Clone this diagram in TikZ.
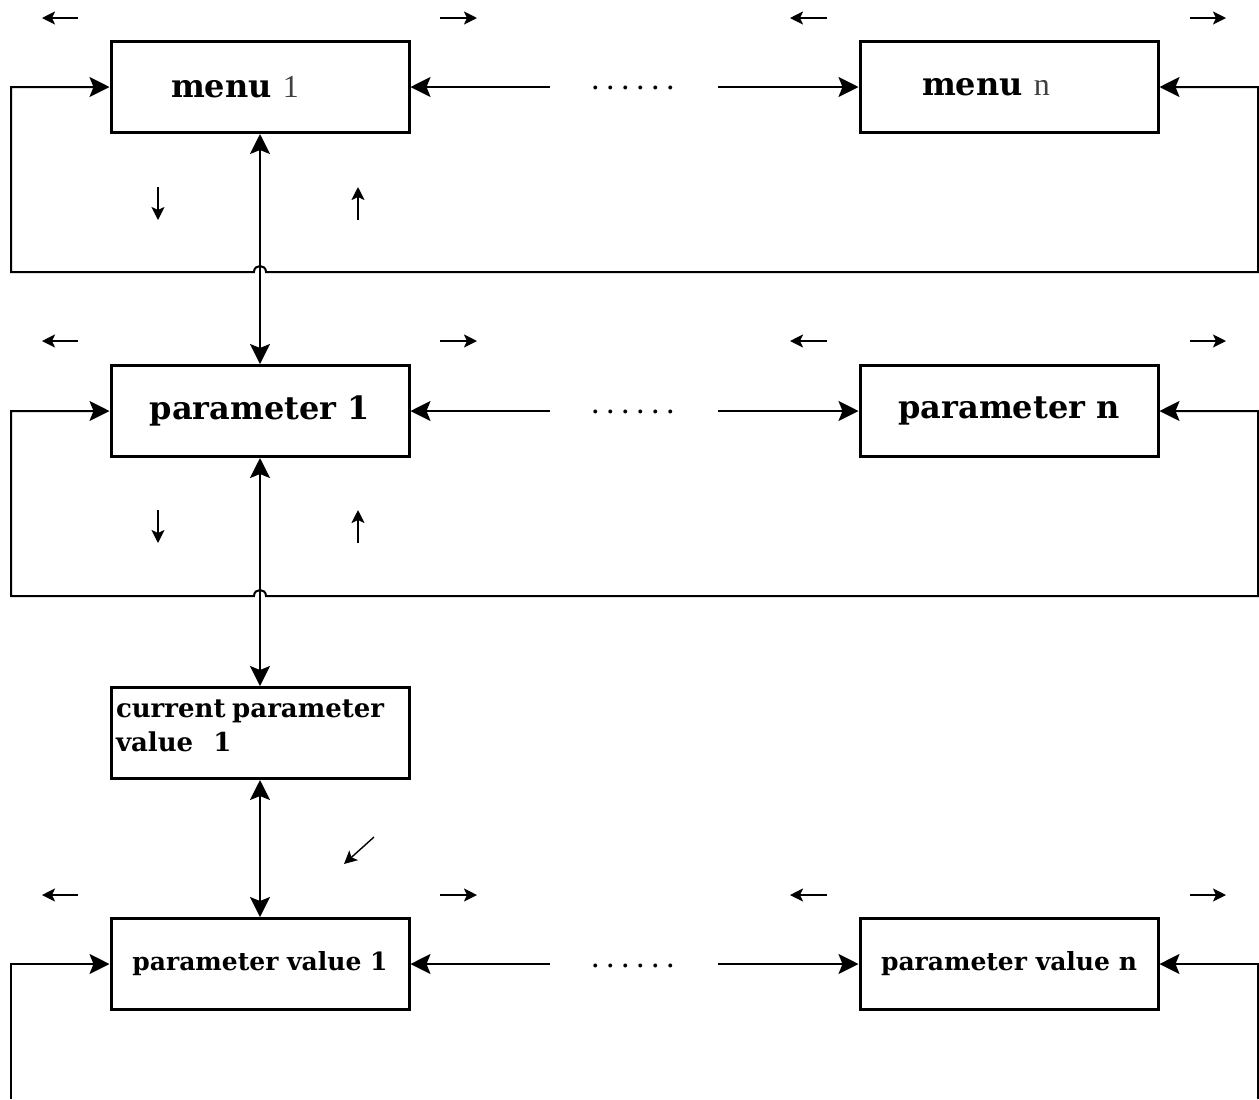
\documentclass[tikz,border=0pt]{standalone}
\usepackage{fontspec}
\setmainfont{DejaVu Serif}
\newfontfamily\thinfont{Liberation Serif}
\usetikzlibrary{arrows.meta}

\tikzset{
  box/.style={draw, line width=1.5pt, minimum width=149pt, minimum height=45.5pt, inner sep=1.5pt, font=\bfseries},
  link/.style={line width=1pt},
  bigtip/.style={-{Stealth[length=10pt,width=10pt,inset=2pt]}},
  twotip/.style={{Stealth[length=10pt,width=10pt,inset=2pt]}-{Stealth[length=10pt,width=10pt,inset=2pt]}},
  hint/.style={line width=1pt, -{Stealth[length=6.5pt,width=6.5pt,inset=1.5pt]}},
}
\newcommand{\dotrow}{\foreach \i in {1,...,6}{\makebox[7.5pt]{.}}}

\begin{document}
\begin{tikzpicture}[x=0.5pt,y=-0.5pt]
  \useasboundingbox (0,0) rectangle (1259,1099);

  % Boxes of the three levels
  \node[box] (m1) at (260,87) {\fontsize{16}{16}\selectfont menu\ {\thinfont\mdseries\color{black!75}1}\hspace*{25pt}}; % first menu
  \node[box] (mn) at (1009,87) {\fontsize{16}{16}\selectfont menu\ {\thinfont\mdseries\color{black!75}n}\hspace*{23pt}}; % last menu
  \node[box] (p1) at (260,411) {\fontsize{16}{16}\selectfont parameter 1}; % first parameter
  \node[box] (pn) at (1009,411) {\fontsize{16}{16}\selectfont parameter n}; % last parameter
  \node[box, text width=144pt, align=left] (cv) at (260,733) {\fontsize{13}{17}\selectfont current parameter\\value\ \ \ 1\\[-5pt]\mbox{}}; % current value
  \node[box] (v1) at (260,964) {\fontsize{12.5}{12.5}\selectfont parameter value 1}; % first value
  \node[box] (vn) at (1009,964) {\fontsize{12.5}{12.5}\selectfont parameter value n}; % last value

  % Dots between first and last box of each row
  \node[font=\fontsize{15}{15}\selectfont] (d1) at (633,88) {\dotrow};
  \node[font=\fontsize{15}{15}\selectfont] (d2) at (633,412) {\dotrow};
  \node[font=\fontsize{15}{15}\selectfont] (d3) at (633,966) {\dotrow};

  % Free ends of the row connectors
  \coordinate (a1) at (550,87);  \coordinate (b1) at (718,87);
  \coordinate (a2) at (550,411); \coordinate (b2) at (718,411);
  \coordinate (a3) at (550,964); \coordinate (b3) at (718,964);

  % Row connectors
  \draw[link,bigtip] (a1) -- (m1.east);
  \draw[link,bigtip] (b1) -- (mn.west);
  \draw[link,bigtip] (a2) -- (p1.east);
  \draw[link,bigtip] (b2) -- (pn.west);
  \draw[link,bigtip] (a3) -- (v1.east);
  \draw[link,bigtip] (b3) -- (vn.west);

  % Wrap-around loops with a hop over the vertical link
  \draw[link,twotip] (mn.east) -- (1258,87) -- (1258,272) -- (266,272)
    .. controls (266,264) and (254,264) .. (254,272) -- (11,272) -- (11,87) -- (m1.west);
  \draw[link,twotip] (pn.east) -- (1258,411) -- (1258,596) -- (266,596)
    .. controls (266,588) and (254,588) .. (254,596) -- (11,596) -- (11,411) -- (p1.west);
  \draw[link,bigtip] (11,1099) -- (11,964) -- (v1.west);
  \draw[link,bigtip] (1258,1099) -- (1258,964) -- (vn.east);

  % Vertical links between levels
  \draw[link,twotip] (m1.south) -- (p1.north);
  \draw[link,twotip] (p1.south) -- (cv.north);
  \draw[link,twotip] (cv.south) -- (v1.north);

  % Small direction hints
  \foreach \y in {18,341,895} {
    \draw[hint] (78,\y) -- (42,\y);
    \draw[hint] (440,\y) -- (477,\y);
    \draw[hint] (827,\y) -- (790,\y);
    \draw[hint] (1190,\y) -- (1226,\y);
  }
  \foreach \y in {187,510} {
    \draw[hint] (158,\y) -- (158,\y+33);
    \draw[hint] (358,\y+33) -- (358,\y);
  }
  \draw[hint, line width=0.7pt] (374,837) -- (344,864);
\end{tikzpicture}
\end{document}
